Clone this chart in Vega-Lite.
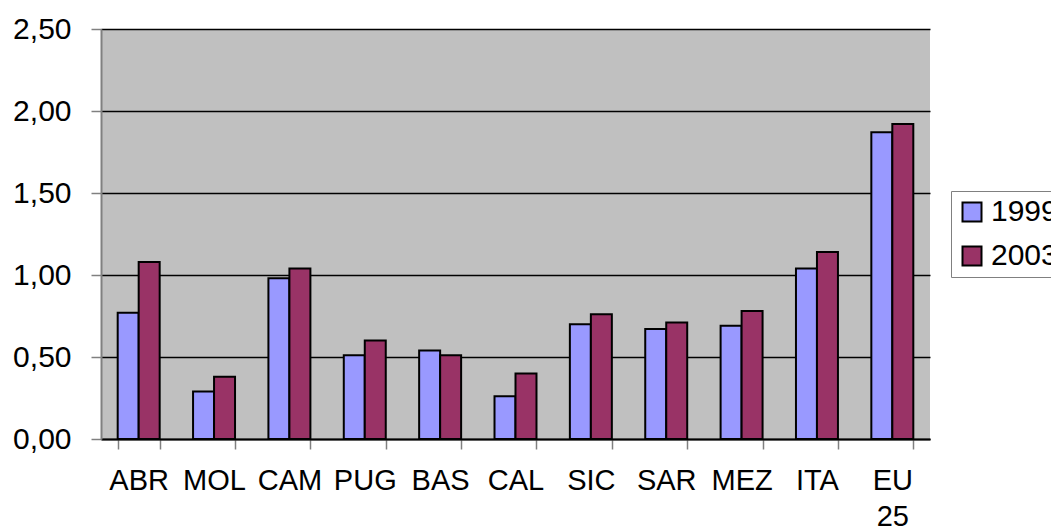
{
  "$schema": "https://vega.github.io/schema/vega-lite/v6.json",
  "autosize": {"type": "none"},
  "padding": {"left": 101, "top": 29, "right": 121, "bottom": 88},
  "width": 829,
  "height": 410,
  "background": "white",
  "data": {
    "values": [
      {"region": "ABR", "year": "1999", "value": 0.77},
      {"region": "ABR", "year": "2003", "value": 1.08},
      {"region": "MOL", "year": "1999", "value": 0.29},
      {"region": "MOL", "year": "2003", "value": 0.38},
      {"region": "CAM", "year": "1999", "value": 0.98},
      {"region": "CAM", "year": "2003", "value": 1.04},
      {"region": "PUG", "year": "1999", "value": 0.51},
      {"region": "PUG", "year": "2003", "value": 0.60},
      {"region": "BAS", "year": "1999", "value": 0.54},
      {"region": "BAS", "year": "2003", "value": 0.51},
      {"region": "CAL", "year": "1999", "value": 0.26},
      {"region": "CAL", "year": "2003", "value": 0.40},
      {"region": "SIC", "year": "1999", "value": 0.70},
      {"region": "SIC", "year": "2003", "value": 0.76},
      {"region": "SAR", "year": "1999", "value": 0.67},
      {"region": "SAR", "year": "2003", "value": 0.71},
      {"region": "MEZ", "year": "1999", "value": 0.69},
      {"region": "MEZ", "year": "2003", "value": 0.78},
      {"region": "ITA", "year": "1999", "value": 1.04},
      {"region": "ITA", "year": "2003", "value": 1.14},
      {"region": "EU 25", "year": "1999", "value": 1.87},
      {"region": "EU 25", "year": "2003", "value": 1.92}
    ]
  },
  "mark": {"type": "bar", "stroke": "black", "strokeWidth": 2},
  "encoding": {
    "x": {
      "field": "region",
      "type": "nominal",
      "sort": null,
      "scale": {"paddingInner": 0.443, "paddingOuter": 0.2215},
      "axis": {
        "title": null,
        "labelAngle": 0,
        "labelFont": "Liberation Sans",
        "labelFontSize": 29,
        "labelColor": "black",
        "labelPadding": 17,
        "labelLineHeight": 36,
        "labelBaseline": "top",
        "labelExpr": "datum.label == 'EU 25' ? ['EU', '25'] : datum.label",
        "labelOverlap": false,
        "domainColor": "black",
        "domainWidth": 2,
        "tickColor": "#808080",
        "tickWidth": 1.5,
        "tickSize": 10,
        "tickBand": "extent",
        "grid": false
      }
    },
    "xOffset": {"field": "year", "type": "nominal", "scale": {"paddingInner": 0, "paddingOuter": 0}},
    "y": {
      "field": "value",
      "type": "quantitative",
      "stack": null,
      "scale": {"domain": [0, 2.5], "nice": false},
      "axis": {
        "title": null,
        "values": [0, 0.5, 1, 1.5, 2, 2.5],
        "labelExpr": "replace(format(datum.value, '.2f'), '.', ',')",
        "labelFont": "Liberation Sans",
        "labelFontSize": 30,
        "labelColor": "black",
        "labelPadding": 20,
        "domainColor": "#808080",
        "domainWidth": 2,
        "tickColor": "#808080",
        "tickWidth": 1.5,
        "tickSize": 10,
        "grid": true,
        "gridColor": "black",
        "gridWidth": 1.5,
        "gridOpacity": 1
      }
    },
    "color": {
      "field": "year",
      "type": "nominal",
      "scale": {"domain": ["1999", "2003"], "range": ["#9999FF", "#993366"]},
      "legend": {
        "title": null,
        "orient": "none",
        "legendX": 850,
        "legendY": 162,
        "symbolType": "square",
        "symbolSize": 361,
        "symbolStrokeColor": "black",
        "symbolStrokeWidth": 2,
        "symbolOpacity": 1,
        "labelFont": "Liberation Sans",
        "labelFontSize": 30,
        "labelColor": "black",
        "labelOffset": 4,
        "rowPadding": 14,
        "padding": 6,
        "fillColor": "white",
        "strokeColor": "#808080"
      }
    }
  },
  "config": {
    "view": {"fill": "#C0C0C0", "stroke": null}
  }
}
